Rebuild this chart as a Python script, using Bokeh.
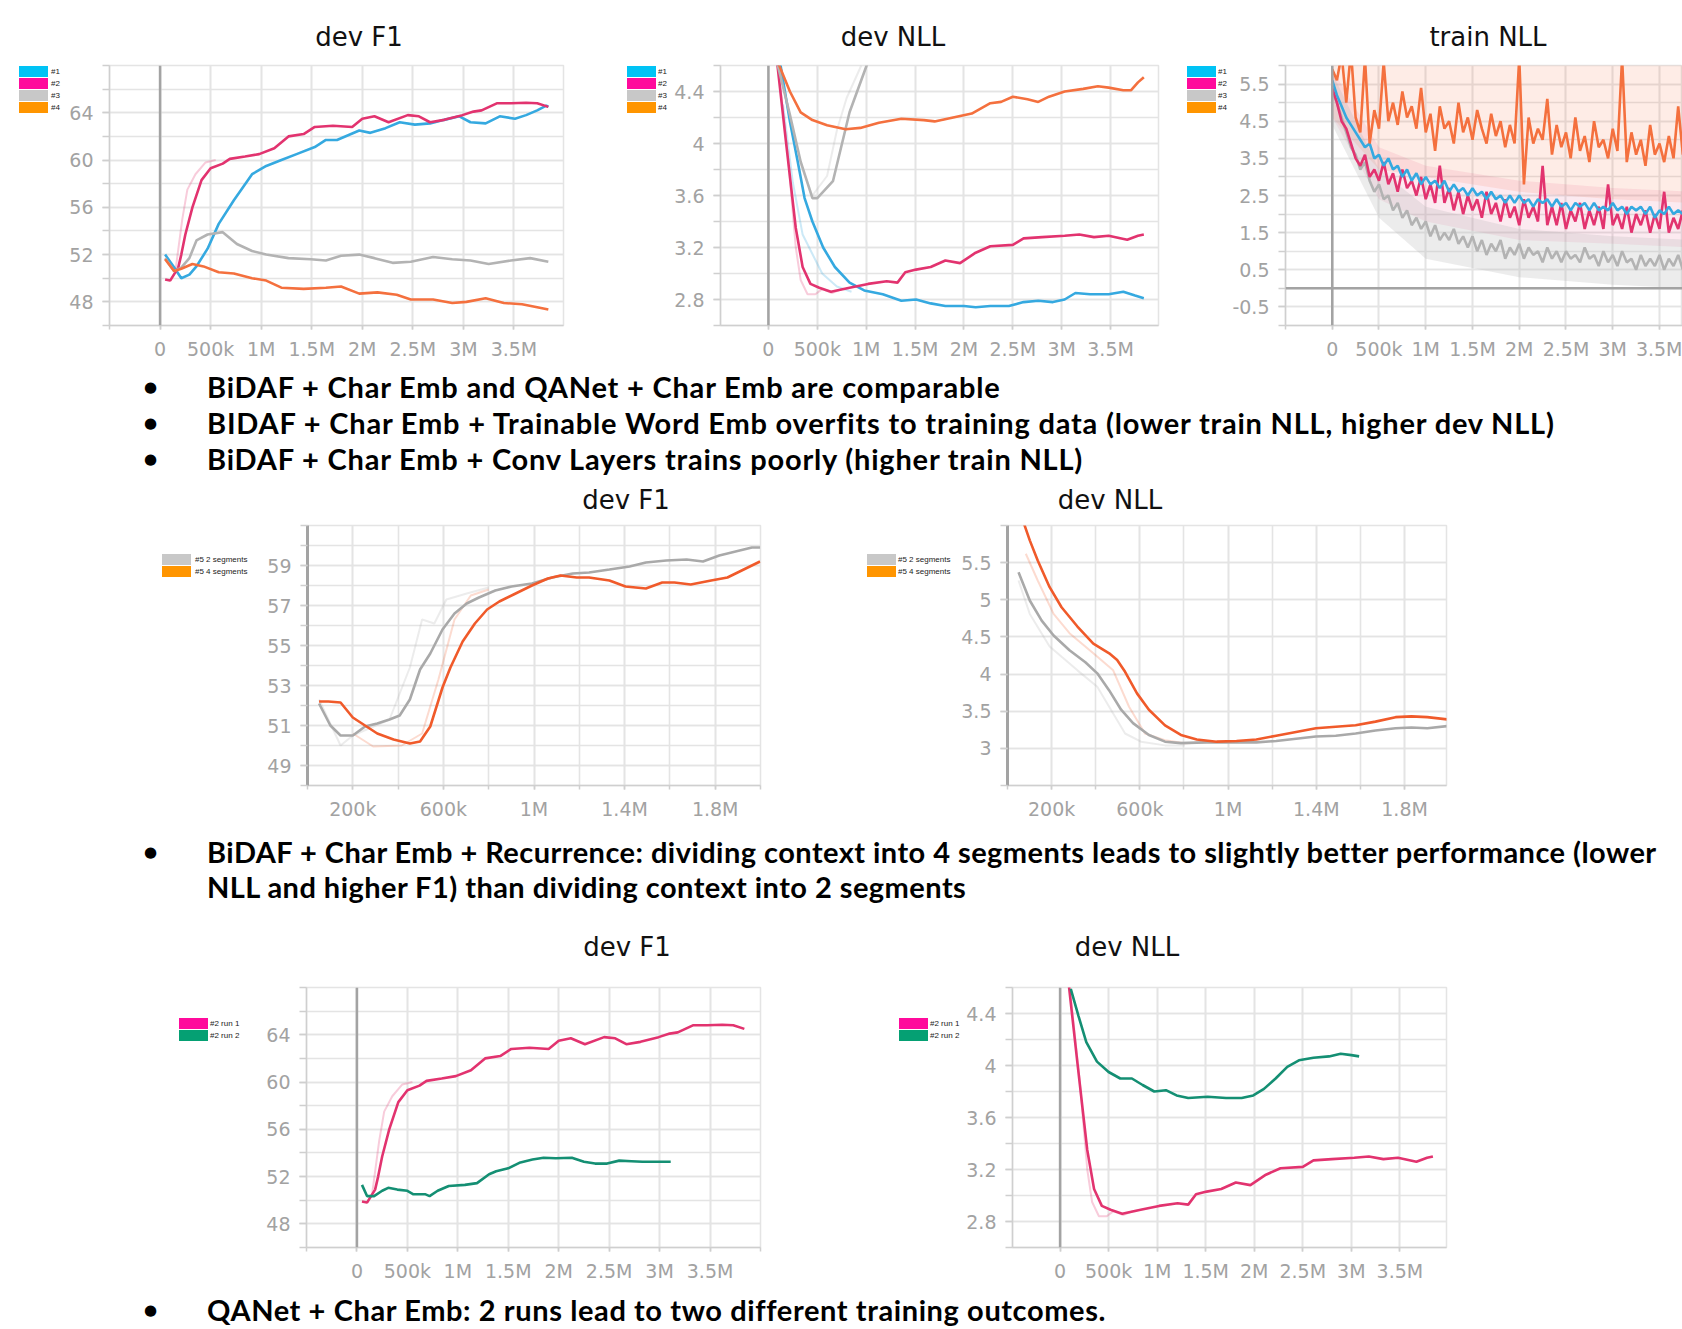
from bokeh.plotting import figure
from bokeh.models import FixedTicker, Span, Div, Range1d
from bokeh.layouts import row, column
from bokeh.embed import file_html
from bokeh.resources import INLINE

# ------------------------------------------------------------------ data
# steps are in millions of training iterations
# --- top row: experiments #1..#4
f1_x_1 = [0.05, 0.14, 0.21, 0.29, 0.36, 0.47, 0.58, 0.73, 0.91, 1.05, 1.20, 1.35, 1.53, 1.64, 1.75, 1.86,
          1.97, 2.08, 2.23, 2.37, 2.52, 2.67, 2.81, 2.96, 3.07, 3.22, 3.36, 3.51, 3.62, 3.73, 3.82, 3.84]
f1_y_1 = [52.0, 50.9, 50.0, 50.3, 51.0, 52.5, 54.6, 56.6, 58.8, 59.5, 60.0, 60.5, 61.1, 61.7, 61.7, 62.1,
          62.5, 62.3, 62.7, 63.2, 63.0, 63.1, 63.4, 63.7, 63.2, 63.1, 63.7, 63.5, 63.8, 64.2, 64.6, 64.5]
f1_x_2 = [0.05, 0.10, 0.18, 0.21, 0.25, 0.32, 0.41, 0.50, 0.62, 0.69, 0.84, 0.98, 1.13, 1.27, 1.42, 1.53,
          1.71, 1.90, 2.00, 2.12, 2.26, 2.45, 2.56, 2.67, 2.81, 2.99, 3.10, 3.18, 3.33, 3.47, 3.62, 3.73, 3.84]
f1_y_2 = [49.9, 49.8, 50.9, 52.0, 53.7, 56.0, 58.3, 59.3, 59.7, 60.1, 60.3, 60.5, 61.0, 62.0, 62.2, 62.8,
          62.9, 62.8, 63.5, 63.7, 63.2, 63.8, 63.7, 63.2, 63.4, 63.8, 64.1, 64.2, 64.8, 64.8, 64.85, 64.8, 64.5]
f1_x_3 = [0.05, 0.14, 0.21, 0.29, 0.36, 0.47, 0.62, 0.76, 0.91, 1.05, 1.27, 1.49, 1.64, 1.79, 1.97, 2.12,
          2.30, 2.48, 2.70, 2.89, 3.07, 3.25, 3.47, 3.66, 3.84]
f1_y_3 = [51.7, 50.6, 50.9, 51.7, 53.2, 53.7, 53.9, 52.9, 52.3, 52.0, 51.7, 51.6, 51.5, 51.9, 52.0, 51.7,
          51.3, 51.4, 51.8, 51.6, 51.5, 51.2, 51.5, 51.7, 51.4]
f1_x_4 = [0.05, 0.14, 0.21, 0.32, 0.43, 0.58, 0.73, 0.91, 1.05, 1.20, 1.42, 1.64, 1.79, 1.97, 2.15, 2.34,
          2.48, 2.70, 2.89, 3.03, 3.22, 3.40, 3.58, 3.73, 3.84]
f1_y_4 = [51.6, 50.6, 50.8, 51.2, 51.0, 50.5, 50.4, 50.0, 49.8, 49.2, 49.1, 49.2, 49.3, 48.7, 48.8, 48.6,
          48.2, 48.2, 47.9, 48.0, 48.3, 47.9, 47.8, 47.55, 47.35]
f1_raw_x_2 = [0.10, 0.15, 0.22, 0.27, 0.35, 0.45, 0.55]
f1_raw_y_2 = [49.8, 50.5, 55.0, 57.5, 58.8, 59.8, 60.0]

nll_x_1 = [0.12, 0.22, 0.30, 0.37, 0.45, 0.56, 0.68, 0.83, 0.98, 1.17, 1.36, 1.51, 1.66, 1.81, 2.00, 2.12,
           2.27, 2.46, 2.61, 2.76, 2.91, 3.03, 3.14, 3.29, 3.48, 3.63, 3.75, 3.84]
nll_y_1 = [4.62, 4.17, 3.86, 3.58, 3.40, 3.20, 3.05, 2.93, 2.87, 2.84, 2.79, 2.80, 2.77, 2.75, 2.75, 2.74,
           2.75, 2.75, 2.78, 2.79, 2.78, 2.80, 2.85, 2.84, 2.84, 2.86, 2.83, 2.81]
nll_x_2 = [0.09, 0.18, 0.28, 0.35, 0.43, 0.52, 0.64, 0.83, 1.02, 1.21, 1.32, 1.40, 1.51, 1.66, 1.81, 1.96,
           2.12, 2.27, 2.50, 2.61, 2.80, 3.03, 3.18, 3.33, 3.48, 3.67, 3.78, 3.84]
nll_y_2 = [4.62, 4.01, 3.35, 3.05, 2.92, 2.89, 2.86, 2.89, 2.92, 2.94, 2.93, 3.01, 3.03, 3.05, 3.10, 3.08,
           3.16, 3.21, 3.22, 3.27, 3.28, 3.29, 3.30, 3.28, 3.29, 3.26, 3.29, 3.30]
nll_x_3 = [0.09, 0.22, 0.33, 0.45, 0.50, 0.66, 0.83, 1.00, 1.05]
nll_y_3 = [4.62, 4.22, 3.86, 3.58, 3.58, 3.71, 4.24, 4.59, 4.70]
nll_x_4 = [0.10, 0.22, 0.33, 0.45, 0.60, 0.79, 0.94, 1.13, 1.36, 1.59, 1.70, 1.89, 2.08, 2.27, 2.38, 2.50,
           2.65, 2.76, 2.87, 3.03, 3.22, 3.37, 3.48, 3.63, 3.71, 3.78, 3.84]
nll_y_4 = [4.62, 4.40, 4.24, 4.18, 4.14, 4.11, 4.12, 4.16, 4.19, 4.18, 4.17, 4.20, 4.23, 4.31, 4.32, 4.36,
           4.34, 4.32, 4.36, 4.40, 4.42, 4.44, 4.43, 4.41, 4.41, 4.47, 4.51]
nll_raw_x_1 = [0.15, 0.25, 0.35, 0.45, 0.55, 0.70, 0.85]
nll_raw_y_1 = [4.30, 3.70, 3.30, 3.15, 3.00, 2.90, 2.86]
nll_raw_x_2 = [0.10, 0.20, 0.28, 0.33, 0.40, 0.48, 0.55, 0.65, 0.75]
nll_raw_y_2 = [4.60, 3.90, 3.20, 2.95, 2.84, 2.84, 2.88, 2.85, 2.88]
nll_raw_x_3 = [0.30, 0.45, 0.60, 0.70, 0.80, 0.95]
nll_raw_y_3 = [3.90, 3.60, 3.75, 4.10, 4.35, 4.60]

train_steps = [0.00, 0.05, 0.10, 0.15, 0.20, 0.25, 0.30, 0.35, 0.40, 0.45, 0.50, 0.55, 0.60, 0.65, 0.70, 0.75,
               0.80, 0.85, 0.90, 0.95, 1.00, 1.05, 1.10, 1.15, 1.20, 1.25, 1.30, 1.35, 1.40, 1.45, 1.50, 1.55,
               1.60, 1.65, 1.70, 1.75, 1.80, 1.85, 1.90, 1.95, 2.00, 2.05, 2.10, 2.15, 2.20, 2.25, 2.30, 2.35,
               2.40, 2.45, 2.50, 2.55, 2.60, 2.65, 2.70, 2.75, 2.80, 2.85, 2.90, 2.95, 3.00, 3.05, 3.10, 3.15,
               3.20, 3.25, 3.30, 3.35, 3.40, 3.45, 3.50, 3.55, 3.60, 3.65, 3.70, 3.75, 3.80, 3.85]
train_nll_1 = [5.6, 5.2, 4.9, 4.6, 4.4, 4.2, 4.0, 3.8, 3.9, 3.5, 3.6, 3.3, 3.5, 3.2, 3.3, 3.0,
               3.2, 2.9, 3.1, 2.8, 3.0, 2.8, 2.9, 2.7, 2.9, 2.6, 2.8, 2.6, 2.7, 2.5, 2.7, 2.5,
               2.6, 2.4, 2.6, 2.4, 2.5, 2.3, 2.5, 2.3, 2.5, 2.3, 2.4, 2.2, 2.4, 2.3, 2.4, 2.2,
               2.4, 2.2, 2.3, 2.1, 2.3, 2.2, 2.3, 2.1, 2.3, 2.1, 2.2, 2.1, 2.3, 2.1, 2.2, 2.0,
               2.2, 2.1, 2.2, 2.0, 2.2, 1.9, 2.1, 2.0, 2.2, 2.0, 2.1, 2.0, 2.2, 2.0]
train_nll_2 = [5.4, 5.0, 4.5, 4.3, 3.9, 3.5, 3.3, 3.6, 3.0, 3.2, 2.9, 3.4, 2.8, 3.1, 2.6, 3.2,
               2.7, 2.9, 2.5, 3.0, 2.4, 2.8, 2.3, 3.3, 2.3, 2.7, 2.1, 2.6, 2.0, 2.5, 2.1, 2.4,
               1.9, 2.6, 2.0, 2.3, 1.8, 2.4, 1.9, 2.2, 1.7, 2.4, 1.9, 2.2, 1.8, 3.3, 1.7, 2.2,
               1.7, 2.3, 1.6, 2.1, 1.8, 2.3, 1.6, 2.1, 1.7, 2.2, 1.6, 2.8, 1.7, 2.0, 1.6, 2.2,
               1.5, 2.0, 1.7, 2.1, 1.5, 2.0, 1.6, 2.6, 1.5, 1.9, 1.6, 2.1, 1.7, 2.4]
train_nll_3 = [5.3, 5.0, 4.6, 4.2, 3.8, 3.6, 3.2, 3.4, 2.9, 2.6, 2.8, 2.4, 2.5, 2.1, 2.3, 1.9,
               2.1, 1.7, 1.9, 1.6, 1.8, 1.4, 1.7, 1.3, 1.5, 1.3, 1.6, 1.2, 1.4, 1.1, 1.4, 1.0,
               1.3, 0.9, 1.2, 1.0, 1.3, 0.8, 1.1, 0.9, 1.2, 0.8, 1.1, 0.9, 1.0, 0.7, 1.1, 0.8,
               1.0, 0.7, 1.0, 0.8, 0.9, 0.7, 1.1, 0.8, 0.9, 0.6, 1.0, 0.7, 0.9, 0.6, 1.0, 0.7,
               0.8, 0.5, 0.9, 0.6, 0.8, 0.6, 0.9, 0.5, 0.8, 0.6, 0.9, 0.5, 0.8, 0.6]
train_nll_4 = [5.9, 5.6, 6.3, 5.0, 6.4, 4.6, 4.2, 6.2, 3.9, 4.8, 4.3, 6.1, 4.5, 5.0, 4.4, 5.3,
               4.6, 4.9, 4.3, 5.4, 4.2, 4.7, 3.7, 4.9, 4.3, 4.5, 3.9, 5.0, 4.2, 4.6, 4.0, 4.8,
               4.3, 3.9, 4.7, 4.1, 4.5, 3.8, 4.4, 3.9, 6.2, 2.8, 4.6, 3.9, 4.3, 4.0, 5.1, 3.6,
               4.4, 3.8, 4.2, 3.5, 4.6, 3.7, 4.1, 3.4, 4.5, 3.8, 4.0, 3.5, 4.3, 3.7, 6.2, 3.4,
               4.2, 3.6, 4.0, 3.3, 4.4, 3.6, 3.9, 3.4, 4.1, 3.5, 4.9, 3.6, 4.0, 3.7]
# faint raw-value envelopes behind the smoothed training curves
band_steps = [0.0, 0.5, 1.0, 2.0, 3.0, 3.85]
band_lo_2 = [4.6, 2.4, 1.8, 1.3, 1.2, 1.1]
band_hi_2 = [5.9, 3.8, 3.3, 2.9, 2.7, 2.6]
band_lo_3 = [4.4, 1.9, 0.8, 0.3, 0.1, 0.0]
band_hi_3 = [5.8, 3.2, 2.2, 1.6, 1.4, 1.3]
band_lo_4 = [4.6, 3.2, 3.0, 2.6, 2.4, 2.3]
band_hi_4 = [6.5, 6.5, 6.5, 6.5, 6.5, 6.5]

# --- middle row: recurrence with 2 / 4 segments
seg_f1_x_2 = [0.051, 0.101, 0.146, 0.200, 0.254, 0.308, 0.362, 0.407, 0.452, 0.497, 0.542, 0.596, 0.649, 0.703,
              0.757, 0.829, 0.901, 0.991, 1.081, 1.171, 1.243, 1.333, 1.422, 1.494, 1.584, 1.674, 1.746, 1.818,
              1.890, 1.962, 1.998]
seg_f1_y_2 = [52.1, 51.0, 50.5, 50.5, 50.95, 51.1, 51.3, 51.5, 52.3, 53.8, 54.6, 55.8, 56.6, 57.1,
              57.4, 57.75, 57.95, 58.1, 58.4, 58.6, 58.65, 58.8, 58.95, 59.15, 59.25, 59.3, 59.2, 59.5,
              59.7, 59.9, 59.9]
seg_f1_x_4 = [0.051, 0.092, 0.146, 0.200, 0.254, 0.308, 0.380, 0.452, 0.497, 0.542, 0.596, 0.631, 0.685, 0.739,
              0.793, 0.847, 0.919, 0.991, 1.061, 1.117, 1.189, 1.243, 1.333, 1.404, 1.494, 1.566, 1.620, 1.692,
              1.782, 1.854, 1.926, 1.998]
seg_f1_y_4 = [52.2, 52.2, 52.15, 51.4, 51.0, 50.6, 50.3, 50.1, 50.2, 50.95, 52.9, 53.9, 55.2, 56.1,
              56.8, 57.2, 57.6, 58.0, 58.35, 58.5, 58.4, 58.4, 58.25, 57.95, 57.85, 58.15, 58.15, 58.05,
              58.25, 58.4, 58.8, 59.2]
seg_f1_raw_x_2 = [0.051, 0.146, 0.200, 0.362, 0.452, 0.506, 0.560, 0.613, 0.703, 0.800]
seg_f1_raw_y_2 = [52.3, 50.0, 50.5, 51.3, 53.9, 56.3, 56.1, 57.3, 57.6, 57.9]
seg_f1_raw_x_4 = [0.200, 0.290, 0.416, 0.506, 0.578, 0.649, 0.721, 0.800]
seg_f1_raw_y_4 = [50.6, 49.95, 50.0, 50.6, 53.3, 56.3, 57.5, 57.8]

seg_nll_x_2 = [0.050, 0.101, 0.155, 0.209, 0.281, 0.353, 0.407, 0.461, 0.515, 0.569, 0.641, 0.714, 0.786,
               0.894, 1.002, 1.128, 1.218, 1.308, 1.398, 1.488, 1.578, 1.668, 1.759, 1.831, 1.903, 1.993]
seg_nll_y_2 = [5.37, 4.99, 4.72, 4.52, 4.32, 4.16, 4.01, 3.78, 3.52, 3.34, 3.18, 3.09, 3.07,
               3.08, 3.08, 3.08, 3.10, 3.13, 3.16, 3.17, 3.20, 3.24, 3.27, 3.28, 3.27, 3.30]
seg_nll_x_4 = [0.066, 0.101, 0.137, 0.191, 0.245, 0.317, 0.389, 0.461, 0.497, 0.533, 0.587, 0.641, 0.714,
               0.786, 0.858, 0.948, 1.038, 1.128, 1.218, 1.308, 1.398, 1.488, 1.578, 1.668, 1.759, 1.831,
               1.903, 1.993]
seg_nll_y_4 = [6.10, 5.80, 5.53, 5.17, 4.90, 4.64, 4.41, 4.28, 4.19, 4.03, 3.74, 3.52, 3.31,
               3.18, 3.12, 3.09, 3.10, 3.12, 3.17, 3.22, 3.27, 3.29, 3.31, 3.36, 3.42, 3.43,
               3.42, 3.39]
seg_nll_raw_x_2 = [0.050, 0.101, 0.191, 0.317, 0.407, 0.479, 0.533, 0.605, 0.714, 0.804]
seg_nll_raw_y_2 = [5.26, 4.81, 4.37, 4.05, 3.83, 3.47, 3.20, 3.09, 3.04, 3.04]
seg_nll_raw_x_4 = [0.083, 0.137, 0.209, 0.281, 0.389, 0.479, 0.551, 0.623, 0.714, 0.804, 0.900]
seg_nll_raw_y_4 = [5.62, 5.26, 4.81, 4.55, 4.28, 4.05, 3.56, 3.20, 3.11, 3.07, 3.08]

# --- bottom row: QANet run 1 (= #2 above) and run 2
run2_f1_x = [0.05, 0.10, 0.17, 0.25, 0.31, 0.40, 0.50, 0.56, 0.68, 0.72, 0.80, 0.91, 1.07, 1.19, 1.31,
             1.38, 1.50, 1.62, 1.74, 1.85, 1.97, 2.13, 2.25, 2.36, 2.48, 2.60, 2.72, 2.83, 2.99, 3.11]
run2_f1_y = [51.3, 50.35, 50.35, 50.8, 51.05, 50.9, 50.8, 50.5, 50.5, 50.35, 50.8, 51.2, 51.3, 51.45, 52.2,
             52.45, 52.7, 53.2, 53.45, 53.6, 53.55, 53.6, 53.25, 53.1, 53.1, 53.35, 53.3, 53.25, 53.25, 53.25]
run2_nll_x = [0.11, 0.19, 0.27, 0.38, 0.50, 0.62, 0.74, 0.85, 0.97, 1.09, 1.20, 1.32, 1.52, 1.71, 1.87,
              1.99, 2.10, 2.22, 2.34, 2.46, 2.61, 2.77, 2.89, 3.00, 3.08]
run2_nll_y = [4.59, 4.38, 4.18, 4.03, 3.95, 3.90, 3.90, 3.85, 3.80, 3.81, 3.77, 3.75, 3.76, 3.75, 3.75,
              3.77, 3.82, 3.90, 3.99, 4.04, 4.06, 4.07, 4.09, 4.08, 4.07]

# --- labels / ticks / texts
titles_top = ["dev F1", "dev NLL", "train NLL"]
titles_mid = ["dev F1", "dev NLL"]
titles_bottom = ["dev F1", "dev NLL"]
legend_runs = ["#1", "#2", "#3", "#4"]
legend_segments = ["#5 2 segments", "#5 4 segments"]
legend_qanet = ["#2 run 1", "#2 run 2"]

x_ticks_long = [0, 0.5, 1.0, 1.5, 2.0, 2.5, 3.0, 3.5]
x_labels_long = ["0", "500k", "1M", "1.5M", "2M", "2.5M", "3M", "3.5M"]
x_minor_long = [-0.5, 0, 0.5, 1.0, 1.5, 2.0, 2.5, 3.0, 3.5, 4.0]
x_ticks_short = [0.2, 0.6, 1.0, 1.4, 1.8]
x_labels_short = ["200k", "600k", "1M", "1.4M", "1.8M"]
x_minor_short = [0, 0.2, 0.4, 0.6, 0.8, 1.0, 1.2, 1.4, 1.6, 1.8, 2.0]

f1_ticks = [48, 52, 56, 60, 64]
f1_labels = ["48", "52", "56", "60", "64"]
f1_minor = [46, 48, 50, 52, 54, 56, 58, 60, 62, 64, 66, 68]
nll_ticks = [2.8, 3.2, 3.6, 4.0, 4.4]
nll_labels = ["2.8", "3.2", "3.6", "4", "4.4"]
nll_minor = [2.6, 2.8, 3.0, 3.2, 3.4, 3.6, 3.8, 4.0, 4.2, 4.4, 4.6]
train_ticks = [-0.5, 0.5, 1.5, 2.5, 3.5, 4.5, 5.5]
train_labels = ["-0.5", "0.5", "1.5", "2.5", "3.5", "4.5", "5.5"]
train_minor = [-1, -0.5, 0, 0.5, 1, 1.5, 2, 2.5, 3, 3.5, 4, 4.5, 5, 5.5, 6]
seg_f1_ticks = [49, 51, 53, 55, 57, 59]
seg_f1_labels = ["49", "51", "53", "55", "57", "59"]
seg_f1_minor = [48, 49, 50, 51, 52, 53, 54, 55, 56, 57, 58, 59, 60, 61]
seg_nll_ticks = [3, 3.5, 4, 4.5, 5, 5.5]
seg_nll_labels = ["3", "3.5", "4", "4.5", "5", "5.5"]
seg_nll_minor = [2.5, 3, 3.5, 4, 4.5, 5, 5.5, 6]

notes_1 = ["BiDAF + Char Emb and QANet + Char Emb are comparable",
           "BIDAF + Char Emb + Trainable Word Emb overfits to training data (lower train NLL, higher dev NLL)",
           "BiDAF + Char Emb + Conv Layers trains poorly (higher train NLL)"]
notes_2 = ["BiDAF + Char Emb + Recurrence: dividing context into 4 segments leads to slightly better performance (lower",
           "NLL and higher F1) than dividing context into 2 segments"]
notes_3 = ["QANet + Char Emb: 2 runs lead to two different training outcomes."]

# ------------------------------------------------------------------ style
GRID = "#e4e4e4"
AX = "#cfcfcf"
TICK_TXT = "#a2a2a2"
C1, C2, C3, C4 = "#35a9e0", "#e2336f", "#b3b3b3", "#f4703e"
S1, S2, S3, S4 = "#00c3f5", "#ff0a9c", "#c8c8c8", "#ff9500"
SEG2, SEG4 = "#a9a9a9", "#f05a2a"
GREEN, SGREEN = "#148f73", "#05a073"


def make_chart(width, height, borders, x_rng, y_rng, xt, xl, xm, yt, yl, ym):
    bl, br, bt, bb = borders
    p = figure(width=width, height=height, x_range=Range1d(*x_rng), y_range=Range1d(*y_rng),
               title=None, output_backend="svg", toolbar_location=None, tools="",
               min_border_left=bl, min_border_right=br, min_border_top=bt, min_border_bottom=bb)
    p.xaxis.ticker = FixedTicker(ticks=xt, minor_ticks=xm)
    p.yaxis.ticker = FixedTicker(ticks=yt, minor_ticks=ym)
    p.xaxis.major_label_overrides = dict(zip(xt, xl))
    p.yaxis.major_label_overrides = dict(zip(yt, yl))
    for g in (p.xgrid, p.ygrid):
        g.grid_line_color = GRID
        g.grid_line_width = 1.6
        g.minor_grid_line_color = GRID
        g.minor_grid_line_width = 1.6
    p.axis.axis_line_color = AX
    p.axis.axis_line_width = 1.5
    p.axis.major_tick_line_color = AX
    p.axis.minor_tick_line_color = AX
    p.axis.major_tick_line_width = 1.5
    p.axis.minor_tick_line_width = 1.5
    p.axis.major_tick_in = 0
    p.axis.minor_tick_in = 0
    p.axis.major_label_text_color = TICK_TXT
    p.axis.major_label_text_font = "DejaVu Sans"
    p.axis.major_label_text_font_size = "19px"
    p.xaxis.major_tick_out = 4
    p.xaxis.minor_tick_out = 4
    p.xaxis.major_label_standoff = 8
    p.yaxis.major_tick_out = 7
    p.yaxis.minor_tick_out = 7
    p.yaxis.major_label_standoff = 9
    p.outline_line_color = GRID
    p.outline_line_width = 1.5
    return p


def legend_div(width, height, labels, colors, sw_left, lab_left, top):
    """Colour-swatch legend that sits in the strip left of a chart."""
    parts = []
    for i, (lab, col) in enumerate(zip(labels, colors)):
        y = top + 12 * i
        parts.append(f'<span style="position:absolute;left:{sw_left}px;top:{y}px;width:29px;height:11px;'
                     f'background:{col};"></span>')
        parts.append(f'<span style="position:absolute;left:{lab_left}px;top:{y}px;font-family:\'Liberation Sans\';'
                     f'font-size:8px;line-height:11px;color:#222;white-space:nowrap;">{lab}</span>')
    html = (f'<div style="position:relative;width:{width}px;height:{height}px;overflow:hidden;">'
            + "".join(parts) + "</div>")
    return Div(text=html, width=width, height=height, margin=0)


def zero_line(p, dim="height"):
    p.add_layout(Span(location=0, dimension=dim, line_color="#a3a3a3", line_width=2.5))


def text_block(width, height, bullets=(), titles=()):
    """Bullet notes (left, top, text, bullet?, letter-spacing) and chart titles (centre-x, top, text)."""
    bstyle = ("position:absolute;left:144px;font-family:'DejaVu Sans';font-size:15px;"
              "line-height:36px;color:#000;")
    tstyle = ("position:absolute;white-space:nowrap;font-family:Lato;font-weight:700;"
              "font-size:29px;line-height:36px;color:#000;")
    hstyle = ("position:absolute;width:240px;text-align:center;white-space:nowrap;font-family:'DejaVu Sans';"
              "font-size:26px;line-height:30px;color:#111;")
    parts = []
    for top, text, bullet, ls in bullets:
        if bullet:
            parts.append(f'<span style="{bstyle}top:{top}px">&#9679;</span>')
        parts.append(f'<span style="{tstyle}left:207px;top:{top}px;letter-spacing:{ls}px">{text}</span>')
    for cx, top, text in titles:
        parts.append(f'<span style="{hstyle}left:{cx - 120}px;top:{top}px">{text}</span>')
    html = (f'<div style="position:relative;width:{width}px;height:{height}px;overflow:hidden;">'
            + "".join(parts) + "</div>")
    return Div(text=html, width=width, height=height, margin=0, styles={"overflow": "hidden"})


# ------------------------------------------------------------------ titles of the top row (y 0..57)
divT = text_block(1682, 57, titles=[(359, 22, titles_top[0]), (893, 22, titles_top[1]), (1488, 22, titles_top[2])])

# ------------------------------------------------------------------ top row charts (y 57..365)
legA1 = legend_div(62, 308, legend_runs, [S1, S2, S3, S4], 19, 51, 9)
pA1 = make_chart(518, 308, (47, 17, 8, 40), (-0.5, 3.99), (46, 68),
                 x_ticks_long, x_labels_long, x_minor_long, f1_ticks, f1_labels, f1_minor)
zero_line(pA1)
pA1.line(f1_raw_x_2, f1_raw_y_2, line_color=C2, line_alpha=0.25, line_width=2)
for xs, ys, c in ((f1_x_1, f1_y_1, C1), (f1_x_2, f1_y_2, C2), (f1_x_3, f1_y_3, C3), (f1_x_4, f1_y_4, C4)):
    pA1.line(xs, ys, line_color=c, line_width=2.6)

legA2 = legend_div(90, 308, legend_runs, [S1, S2, S3, S4], 47, 78, 9)
pA2 = make_chart(500, 308, (50, 12, 8, 40), (-0.49, 3.99), (2.6, 4.6),
                 x_ticks_long, x_labels_long, x_minor_long, nll_ticks, nll_labels, nll_minor)
zero_line(pA2)
for xs, ys, c in ((nll_raw_x_1, nll_raw_y_1, C1), (nll_raw_x_2, nll_raw_y_2, C2), (nll_raw_x_3, nll_raw_y_3, C3)):
    pA2.line(xs, ys, line_color=c, line_alpha=0.25, line_width=2)
for xs, ys, c in ((nll_x_1, nll_y_1, C1), (nll_x_2, nll_y_2, C2), (nll_x_3, nll_y_3, C3), (nll_x_4, nll_y_4, C4)):
    pA2.line(xs, ys, line_color=c, line_width=2.6)

legA3 = legend_div(59, 308, legend_runs, [S1, S2, S3, S4], 17, 48, 9)
pA3 = make_chart(453, 308, (53, 0, 8, 40), (-0.5, 3.746), (-1, 6),
                 x_ticks_long, x_labels_long, x_minor_long, train_ticks, train_labels, train_minor)
zero_line(pA3)
zero_line(pA3, "width")
pA3.varea(band_steps, band_lo_4, band_hi_4, fill_color=C4, fill_alpha=0.13)
pA3.varea(band_steps, band_lo_2, band_hi_2, fill_color=C2, fill_alpha=0.10)
pA3.varea(band_steps, band_lo_3, band_hi_3, fill_color=C3, fill_alpha=0.25)
for ys, c in ((train_nll_3, C3), (train_nll_2, C2), (train_nll_1, C1), (train_nll_4, C4)):
    pA3.line(train_steps, ys, line_color=c, line_width=2.6)

# ------------------------------------------------------------------ notes 1 + middle titles (y 365..515)
divA = text_block(1682, 150,
                  bullets=[(4, notes_1[0], True, 0.8), (40, notes_1[1], True, 0.8), (76, notes_1[2], True, 0.8)],
                  titles=[(626, 120, titles_mid[0]), (1110, 120, titles_mid[1])])

# ------------------------------------------------------------------ middle row charts (y 515..830)
legB1 = legend_div(252, 315, legend_segments, [S3, S4], 162, 195, 39)
pB1 = make_chart(528, 315, (55, 20, 10, 45), (0, 2.0), (48, 61),
                 x_ticks_short, x_labels_short, x_minor_short, seg_f1_ticks, seg_f1_labels, seg_f1_minor)
pB1.yaxis.axis_line_color = "#a3a3a3"
pB1.yaxis.axis_line_width = 3
pB1.line(seg_f1_raw_x_2, seg_f1_raw_y_2, line_color=SEG2, line_alpha=0.22, line_width=2)
pB1.line(seg_f1_raw_x_4, seg_f1_raw_y_4, line_color=SEG4, line_alpha=0.22, line_width=2)
pB1.line(seg_f1_x_2, seg_f1_y_2, line_color=SEG2, line_width=2.6)
pB1.line(seg_f1_x_4, seg_f1_y_4, line_color=SEG4, line_width=2.6)

legB2 = legend_div(175, 315, legend_segments, [S3, S4], 87, 118, 39)
pB2 = make_chart(505, 315, (52, 14, 10, 45), (0, 1.99), (2.5, 6.0),
                 x_ticks_short, x_labels_short, x_minor_short, seg_nll_ticks, seg_nll_labels, seg_nll_minor)
pB2.yaxis.axis_line_color = "#a3a3a3"
pB2.yaxis.axis_line_width = 3
pB2.line(seg_nll_raw_x_2, seg_nll_raw_y_2, line_color=SEG2, line_alpha=0.22, line_width=2)
pB2.line(seg_nll_raw_x_4, seg_nll_raw_y_4, line_color=SEG4, line_alpha=0.22, line_width=2)
pB2.line(seg_nll_x_2, seg_nll_y_2, line_color=SEG2, line_width=2.6)
pB2.line(seg_nll_x_4, seg_nll_y_4, line_color=SEG4, line_width=2.6)

# ------------------------------------------------------------------ notes 2 + bottom titles (y 830..975)
divB = text_block(1682, 145,
                  bullets=[(4, notes_2[0], True, 0.45), (39, notes_2[1], False, 0.45)],
                  titles=[(627, 102, titles_bottom[0]), (1127, 102, titles_bottom[1])])

# ------------------------------------------------------------------ bottom row charts (y 975..1290)
legC1 = legend_div(255, 315, legend_qanet, [S2, SGREEN], 179, 210, 43)
pC1 = make_chart(525, 315, (51, 20, 12, 43), (-0.5, 4.0), (46, 68),
                 x_ticks_long, x_labels_long, x_minor_long, f1_ticks, f1_labels, f1_minor)
zero_line(pC1)
pC1.line(f1_raw_x_2, f1_raw_y_2, line_color=C2, line_alpha=0.25, line_width=2)
pC1.line(f1_x_2, f1_y_2, line_color=C2, line_width=2.6)
pC1.line(run2_f1_x, run2_f1_y, line_color=GREEN, line_width=2.6)

legC2 = legend_div(183, 315, legend_qanet, [S2, SGREEN], 119, 150, 43)
pC2 = make_chart(497, 315, (46, 14, 12, 43), (-0.49, 3.98), (2.6, 4.6),
                 x_ticks_long, x_labels_long, x_minor_long, nll_ticks, nll_labels, nll_minor)
zero_line(pC2)
pC2.line(nll_raw_x_2, nll_raw_y_2, line_color=C2, line_alpha=0.25, line_width=2)
pC2.line(nll_x_2, nll_y_2, line_color=C2, line_width=2.6)
pC2.line(run2_nll_x, run2_nll_y, line_color=GREEN, line_width=2.6)

# ------------------------------------------------------------------ notes 3 (y 1290..1329)
divC = text_block(1682, 39, bullets=[(2, notes_3[0], True, 0.6)])

layout = column(divT, row(legA1, pA1, legA2, pA2, legA3, pA3), divA,
                row(legB1, pB1, legB2, pB2), divB,
                row(legC1, pC1, legC2, pC2), divC)

with open("out.html", "w", encoding="utf-8") as fh:
    fh.write(file_html(layout, INLINE))
